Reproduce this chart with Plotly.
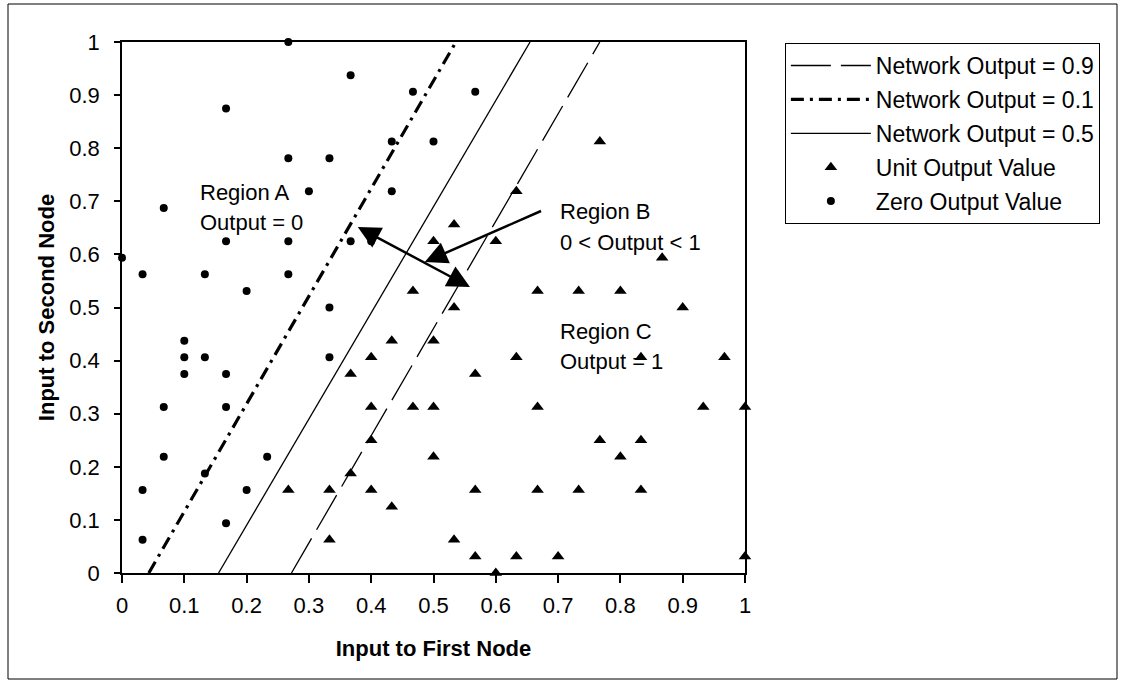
import plotly.graph_objects as go

# ---- data ----
unit_x = [0.767, 0.633, 0.533, 0.5, 0.6, 0.867, 0.467, 0.667, 0.733, 0.8,
          0.533, 0.9, 0.5, 0.433, 0.4, 0.633, 0.833, 0.967, 0.367, 0.567,
          0.4, 0.467, 0.5, 0.667, 0.933, 1.0, 0.4, 0.767, 0.833, 0.5,
          0.8, 0.367, 0.267, 0.333, 0.4, 0.567, 0.667, 0.733, 0.833, 0.433,
          0.333, 0.533, 0.567, 0.633, 0.7, 1.0, 0.6]
unit_y = [0.8125, 0.71875, 0.65625, 0.625, 0.625, 0.59375, 0.53125, 0.53125, 0.53125, 0.53125,
          0.5, 0.5, 0.4375, 0.4375, 0.40625, 0.40625, 0.40625, 0.40625, 0.375, 0.375,
          0.3125, 0.3125, 0.3125, 0.3125, 0.3125, 0.3125, 0.25, 0.25, 0.25, 0.21875,
          0.21875, 0.1875, 0.15625, 0.15625, 0.15625, 0.15625, 0.15625, 0.15625, 0.15625, 0.125,
          0.0625, 0.0625, 0.03125, 0.03125, 0.03125, 0.03125, 0.0]

zero_x = [0.267, 0.367, 0.467, 0.567, 0.167, 0.433, 0.5, 0.267, 0.333, 0.3,
          0.433, 0.067, 0.167, 0.267, 0.367, 0.4, 0.0, 0.033, 0.133, 0.267,
          0.2, 0.333, 0.1, 0.1, 0.133, 0.333, 0.1, 0.167, 0.067, 0.167,
          0.067, 0.233, 0.133, 0.033, 0.2, 0.167, 0.033]
zero_y = [1.0, 0.9375, 0.90625, 0.90625, 0.875, 0.8125, 0.8125, 0.78125, 0.78125, 0.71875,
          0.71875, 0.6875, 0.625, 0.625, 0.625, 0.625, 0.59375, 0.5625, 0.5625, 0.5625,
          0.53125, 0.5, 0.4375, 0.40625, 0.40625, 0.40625, 0.375, 0.375, 0.3125, 0.3125,
          0.21875, 0.21875, 0.1875, 0.15625, 0.15625, 0.09375, 0.0625]

out09_x = [0.272, 0.767]
out09_y = [0.0, 1.0]
out01_x = [0.043, 0.536]
out01_y = [0.0, 1.0]
out05_x = [0.155, 0.655]
out05_y = [0.0, 1.0]

x_ticks = [0, 0.1, 0.2, 0.3, 0.4, 0.5, 0.6, 0.7, 0.8, 0.9, 1]
y_ticks = [0, 0.1, 0.2, 0.3, 0.4, 0.5, 0.6, 0.7, 0.8, 0.9, 1]

FONT = "Liberation Sans, Arial, sans-serif"

fig = go.Figure()

fig.add_trace(go.Scatter(x=out09_x, y=out09_y, mode="lines", name="Network Output = 0.9",
                         legendgroup="a",
                         line=dict(color="black", width=1.3, dash="40px,10px")))
fig.add_trace(go.Scatter(x=out01_x, y=out01_y, mode="lines", name="Network Output = 0.1",
                         legendgroup="b",
                         line=dict(color="black", width=3.2, dash="13px,6px,3px,6px")))
fig.add_trace(go.Scatter(x=out05_x, y=out05_y, mode="lines", name="Network Output = 0.5",
                         legendgroup="c",
                         line=dict(color="black", width=1.3)))
fig.add_trace(go.Scatter(x=unit_x, y=unit_y, mode="markers", name="Unit Output Value",
                         legendgroup="d", cliponaxis=False,
                         marker=dict(symbol="triangle-up", size=11, color="black")))
fig.add_trace(go.Scatter(x=zero_x, y=zero_y, mode="markers", name="Zero Output Value",
                         legendgroup="e", cliponaxis=False,
                         marker=dict(symbol="circle", size=8, color="black")))

ann_font = dict(family=FONT, size=22, color="black")
texts = [
    ("Region A", 0.1226, 0.717),
    ("Output = 0", 0.1226, 0.661),
    ("Region B", 0.6995, 0.6815),
    ("0 < Output < 1", 0.6995, 0.623),
    ("Region C", 0.6995, 0.454),
    ("Output = 1", 0.6995, 0.3975),
]
annotations = []
for t, x, y in texts:
    annotations.append(dict(text=t, x=x, y=y, xref="x", yref="y", showarrow=False,
                            xanchor="left", yanchor="middle", font=ann_font))

# double-headed arrow between the 0.1 and 0.9 contours
annotations.append(dict(x=0.5585, y=0.5386, ax=0.376, ay=0.653, xref="x", yref="y",
                        axref="x", ayref="y", text="", showarrow=True,
                        arrowhead=2, arrowsize=1.8, arrowwidth=2.5, arrowcolor="black",
                        arrowside="end+start", startarrowhead=2, startarrowsize=1.8))
# arrow from Region B label
annotations.append(dict(x=0.486, y=0.5856, ax=0.675, ay=0.683, xref="x", yref="y",
                        axref="x", ayref="y", text="", showarrow=True,
                        arrowhead=2, arrowsize=1.8, arrowwidth=2.5, arrowcolor="black"))

fig.update_layout(
    width=1123, height=684,
    margin=dict(l=122, r=378, t=42, b=111),
    paper_bgcolor="white", plot_bgcolor="white",
    font=dict(family=FONT, size=22, color="black"),
    showlegend=True,
    legend=dict(x=1.064, y=0.998, xanchor="left", yanchor="top",
                bordercolor="black", borderwidth=1, bgcolor="white",
                font=dict(family=FONT, size=23, color="black"),
                itemwidth=80, tracegroupgap=1, traceorder="grouped"),
    annotations=annotations,
    shapes=[dict(type="rect", xref="paper", yref="paper",
                 x0=(8 - 122) / 623, x1=(1117 - 122) / 623,
                 y0=(573 - 679) / 531, y1=(573 - 4) / 531,
                 line=dict(color="black", width=1), fillcolor="rgba(0,0,0,0)",
                 layer="below")],
)

fig.update_xaxes(range=[0, 1], tickvals=x_ticks, showgrid=False, zeroline=False,
                 showline=True, linecolor="black", linewidth=1.5, mirror=True,
                 ticks="outside", ticklen=8, tickcolor="black", tickwidth=1.5,
                 ticklabelstandoff=4,
                 tickfont=dict(family=FONT, size=22),
                 title=dict(text="<b>Input to First Node</b>", standoff=23,
                            font=dict(family=FONT, size=22)))
fig.update_yaxes(range=[0, 1], tickvals=y_ticks, showgrid=False, zeroline=False,
                 showline=True, linecolor="black", linewidth=1.5, mirror=True,
                 ticks="outside", ticklen=6, tickcolor="black", tickwidth=1.5,
                 ticklabelstandoff=10,
                 tickfont=dict(family=FONT, size=22),
                 title=dict(text="<b>Input to Second Node</b>", standoff=9,
                            font=dict(family=FONT, size=22)))

fig.write_html("out.html", config={"displayModeBar": False},
               post_script="document.body.style.margin='0';")
